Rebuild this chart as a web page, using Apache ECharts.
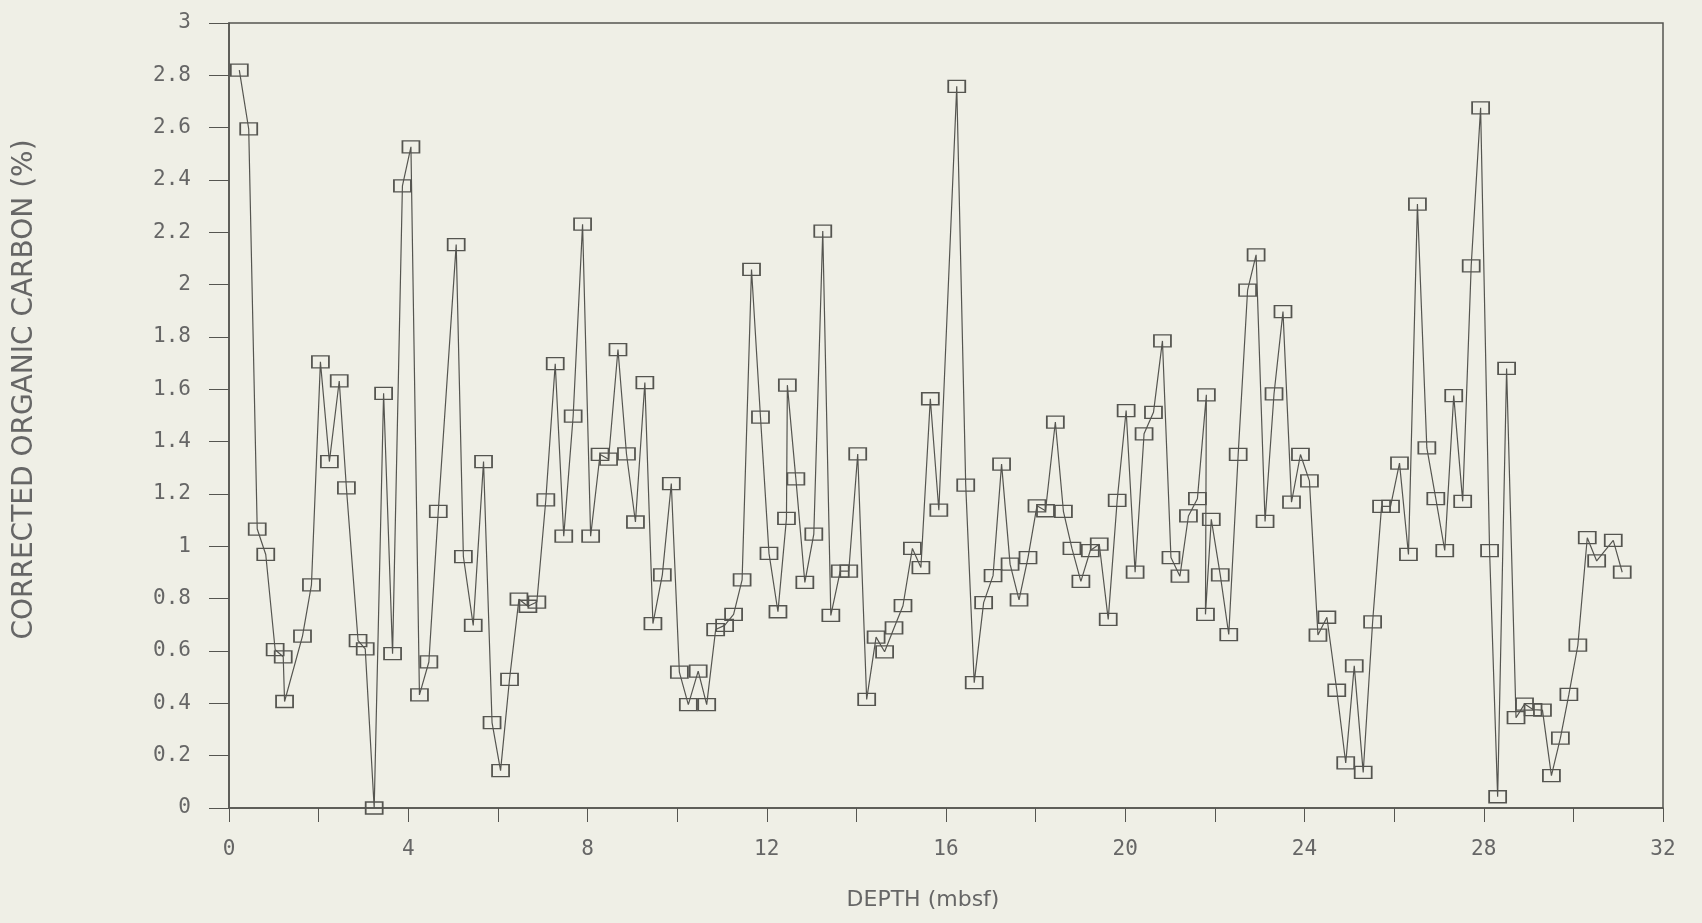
<!DOCTYPE html>
<html>
<head>
<meta charset="utf-8">
<script src="https://cdn.jsdelivr.net/npm/echarts@6/dist/echarts.min.js"></script>
<style>
html,body{margin:0;padding:0;background:#efefe6;}
#c{width:1702px;height:923px;}
</style>
</head>
<body>
<div id="c"></div>
<script>
const depth = [0.23,0.44,0.63,0.82,1.03,1.21,1.24,1.64,1.84,2.04,2.24,2.46,2.62,2.88,3.04,3.24,3.45,3.65,3.87,4.06,4.25,4.46,4.67,5.07,5.23,5.45,5.68,5.87,6.06,6.26,6.47,6.67,6.87,7.07,7.28,7.47,7.68,7.89,8.07,8.28,8.47,8.68,8.87,9.07,9.28,9.46,9.67,9.87,10.05,10.25,10.47,10.66,10.86,11.06,11.26,11.45,11.66,11.86,12.05,12.25,12.44,12.46,12.65,12.85,13.05,13.25,13.43,13.64,13.83,14.03,14.23,14.44,14.63,14.84,15.04,15.25,15.44,15.65,15.84,16.24,16.44,16.63,16.84,17.05,17.24,17.43,17.63,17.83,18.03,18.22,18.44,18.62,18.81,19.01,19.22,19.42,19.62,19.82,20.02,20.22,20.42,20.63,20.83,21.02,21.22,21.41,21.61,21.81,21.79,21.92,22.12,22.31,22.52,22.73,22.92,23.12,23.32,23.52,23.71,23.91,24.11,24.30,24.50,24.72,24.92,25.11,25.31,25.52,25.72,25.92,26.12,26.32,26.52,26.73,26.93,27.13,27.33,27.53,27.72,27.93,28.13,28.31,28.51,28.72,28.91,29.10,29.31,29.51,29.71,29.90,30.10,30.31,30.52,30.89,31.09];
const carbon = [2.82,2.595,1.066,0.969,0.605,0.578,0.407,0.657,0.853,1.705,1.324,1.632,1.223,0.640,0.608,0.0,1.585,0.590,2.378,2.527,0.432,0.558,1.134,2.153,0.961,0.698,1.324,0.326,0.143,0.492,0.798,0.771,0.787,1.178,1.698,1.039,1.498,2.231,1.039,1.351,1.333,1.752,1.353,1.093,1.626,0.705,0.891,1.240,0.519,0.395,0.523,0.395,0.682,0.698,0.740,0.872,2.058,1.494,0.973,0.750,1.107,1.616,1.258,0.862,1.047,2.205,0.736,0.905,0.905,1.353,0.415,0.653,0.597,0.688,0.773,0.992,0.919,1.564,1.138,2.758,1.234,0.479,0.785,0.888,1.314,0.932,0.795,0.957,1.155,1.136,1.475,1.134,0.992,0.866,0.984,1.008,0.721,1.176,1.519,0.901,1.430,1.512,1.785,0.957,0.886,1.116,1.182,1.579,0.740,1.103,0.891,0.663,1.351,1.979,2.114,1.095,1.583,1.897,1.169,1.351,1.250,0.661,0.729,0.450,0.172,0.543,0.136,0.711,1.153,1.153,1.318,0.969,2.308,1.376,1.182,0.984,1.576,1.172,2.072,2.676,0.984,0.043,1.680,0.345,0.397,0.376,0.374,0.124,0.267,0.434,0.622,1.033,0.944,1.023,0.901];
const xTitle = 'DEPTH (mbsf)';
const yTitle = 'CORRECTED ORGANIC CARBON (%)';

const ink = '#555550';
const points = depth.map((d, i) => [d, carbon[i]]);

const chart = echarts.init(document.getElementById('c'), null, {renderer: 'canvas'});
chart.setOption({
  backgroundColor: '#efefe6',
  animation: false,
  grid: {left: 229, right: 39, top: 23, bottom: 115, show: true, borderColor: ink, borderWidth: 1.5, backgroundColor: 'transparent'},
  xAxis: {
    type: 'value', min: 0, max: 32, interval: 4,
    name: xTitle, nameLocation: 'middle', nameGap: 81,
    nameTextStyle: {color: '#666', fontFamily: 'DejaVu Sans', fontSize: 22, padding: [0, 46, 0, 0]},
    axisLine: {show: true, onZero: false, lineStyle: {color: ink, width: 1.5}},
    axisTick: {show: true, inside: false, length: 14, lineStyle: {color: ink, width: 1}},
    minorTick: {show: true, splitNumber: 2, length: 14, lineStyle: {color: ink, width: 1}},
    splitLine: {show: false},
    axisLabel: {color: '#666', fontFamily: 'DejaVu Sans Mono', fontSize: 21, margin: 31}
  },
  yAxis: {
    type: 'value', min: 0, max: 3, interval: 0.2,
    name: yTitle, nameLocation: 'middle', nameGap: 190, nameRotate: 90,
    nameTextStyle: {color: '#666', fontFamily: 'DejaVu Sans', fontSize: 28, padding: [0, 0, 0, 52]},
    axisLine: {show: true, onZero: false, lineStyle: {color: ink, width: 1.5}},
    axisTick: {show: true, inside: false, length: 20, lineStyle: {color: ink, width: 1}},
    splitLine: {show: false},
    axisLabel: {color: '#666', fontFamily: 'DejaVu Sans Mono', fontSize: 21, margin: 38}
  },
  series: [{
    type: 'line',
    data: points,
    symbol: 'rect',
    symbolSize: [17, 12],
    showAllSymbol: true,
    lineStyle: {color: ink, width: 1.2},
    itemStyle: {color: 'transparent', borderColor: ink, borderWidth: 1.5},
    emphasis: {disabled: true}
  }]
});
</script>
</body>
</html>
